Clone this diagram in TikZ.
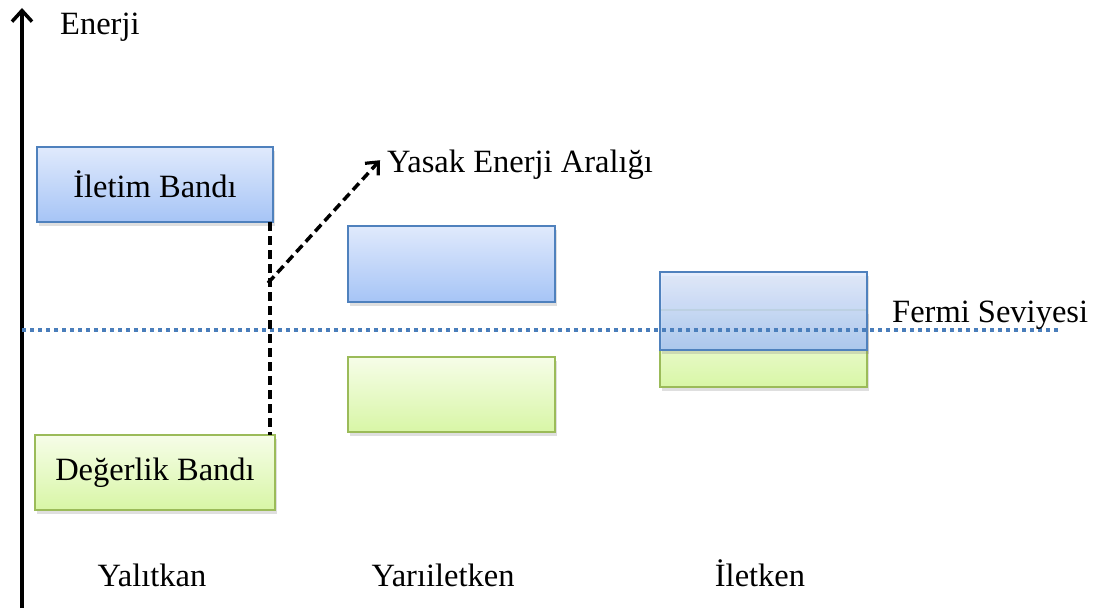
\documentclass[tikz,border=0pt]{standalone}
\usepackage{fontspec}
\setmainfont{Liberation Serif}
\usetikzlibrary{shadows,arrows.meta}
\definecolor{bbord}{HTML}{4F81BD}
\definecolor{btop}{HTML}{E0EAFC}
\definecolor{bbot}{HTML}{A6C4F6}
\definecolor{gbord}{HTML}{9BBB59}
\definecolor{gtop}{HTML}{F6FDE8}
\definecolor{gbot}{HTML}{D8F6A6}
\definecolor{fermi}{HTML}{4A7EBB}
\tikzset{
  lbl/.style={font=\fontsize{32.5}{38}\selectfont, inner sep=0pt},
  bandbase/.style={rectangle, line width=1.5pt, inner sep=0pt,
    drop shadow={shadow xshift=2pt, shadow yshift=-4pt, opacity=0.25}},
  bluebox/.style={bandbase, draw=bbord, top color=btop, bottom color=bbot},
  greenbox/.style={bandbase, draw=gbord, top color=gtop, bottom color=gbot},
  gapline/.style={line width=3.5pt, dash pattern=on 9pt off 5pt},
}
\begin{document}
\begin{tikzpicture}[x=1pt,y=-1pt]
\useasboundingbox (0,0) rectangle (1094,610);
% axis
\coordinate (axb) at (22,608);
\coordinate (axt) at (22,8);
\draw[line width=3.8pt, -{Straight Barb[length=11pt,width=20pt,line width=3.5pt]}] (axb) -- (axt);
\node[lbl, anchor=base west] (en) at (60,35) {Enerji};
% bands
\node[bluebox, minimum width=236pt, minimum height=75pt] (il) at (155,184.5) {\fontsize{32.5}{38}\selectfont İletim Bandı};
\node[greenbox, minimum width=240pt, minimum height=75pt] (de) at (155,472.5) {\fontsize{32.5}{38}\selectfont Değerlik Bandı};
\node[bluebox, minimum width=207pt, minimum height=76pt] (mb) at (451.5,264) {};
\node[greenbox, minimum width=207pt, minimum height=75pt] (mg) at (451.5,394.5) {};
\node[greenbox, minimum width=207pt, minimum height=77pt] (rg) at (763.5,348.5) {};
\node[bluebox, minimum width=207pt, minimum height=78pt, fill opacity=0.85] (rb) at (763.5,311) {};
% fermi line
\coordinate (fl) at (22,330);
\coordinate (fr) at (1058,330);
\draw[fermi, line width=4pt, dash pattern=on 4pt off 4pt] (fl) -- (fr);
\node[lbl, anchor=base west] (fs) at (892,322) {Fermi Seviyesi};
% gap
\coordinate (gt) at (270,222);
\coordinate (gb) at (270,435);
\coordinate (gm) at (268,283);
\draw[gapline] (gt) -- (gb);
\node[lbl, anchor=base west] (ya) at (387,172) {Yasak Enerji Aralığı};
\draw[gapline, -{Straight Barb[length=10pt,width=18pt,line width=3.2pt]}] (gm) -- ([xshift=-7pt,yshift=4pt]ya.west);
% labels
\node[lbl, anchor=base] (t1) at (152,586) {Yalıtkan};
\node[lbl, anchor=base] (t2) at (443,586) {Yarıiletken};
\node[lbl, anchor=base] (t3) at (760,586) {İletken};
\end{tikzpicture}
\end{document}
